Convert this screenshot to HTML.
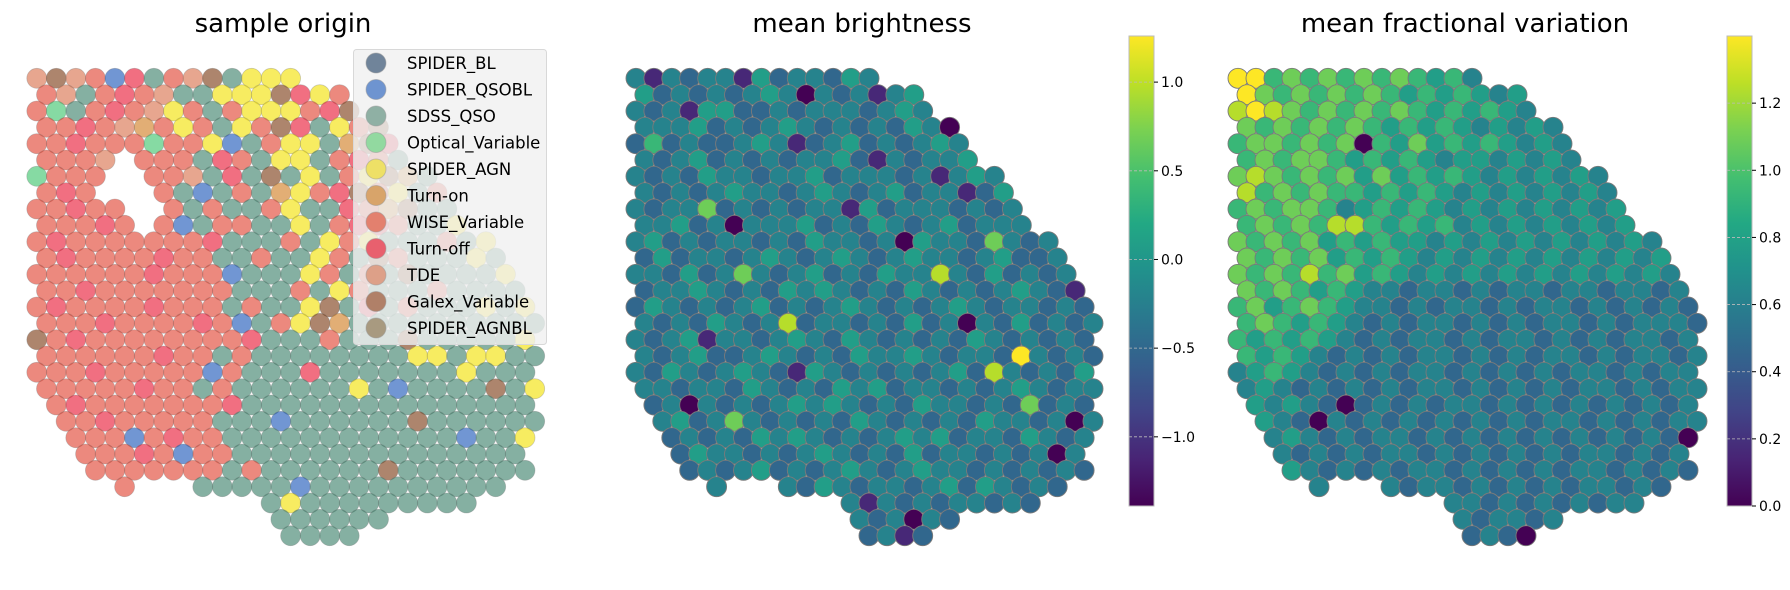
<!DOCTYPE html>
<html><head><meta charset="utf-8">
<style>
html,body{margin:0;padding:0;background:#fff;}
svg{display:block;font-family:"DejaVu Sans","Liberation Sans",sans-serif;}
</style></head>
<body>
<svg id="fig" width="1790" height="590" viewBox="0 0 1790 590" xmlns="http://www.w3.org/2000/svg">
  <defs>
    <linearGradient id="vir" x1="0" y1="1" x2="0" y2="0">
      <stop offset="0" stop-color="#440154"/><stop offset="0.1" stop-color="#482475"/>
      <stop offset="0.2" stop-color="#414487"/><stop offset="0.3" stop-color="#355f8d"/>
      <stop offset="0.4" stop-color="#2a788e"/><stop offset="0.5" stop-color="#21918c"/>
      <stop offset="0.6" stop-color="#22a884"/><stop offset="0.7" stop-color="#44bf70"/>
      <stop offset="0.8" stop-color="#7ad151"/><stop offset="0.9" stop-color="#bddf26"/>
      <stop offset="1" stop-color="#fde725"/>
    </linearGradient>
  </defs>
  <text x="283" y="32" font-size="26" text-anchor="middle" fill="#000">sample origin</text>
  <text x="862" y="32" font-size="26" text-anchor="middle" fill="#000">mean brightness</text>
  <text x="1465" y="32" font-size="26" text-anchor="middle" fill="#000">mean fractional variation</text>
  <g id="left"></g>
  <g id="mid"></g>
  <g id="right"></g>
  <g id="legend"></g>
  <g id="cb1"></g>
  <g id="cb2"></g>
</svg>
<script>
// ---- data ----
const categoryNames = ["SPIDER_BL","SPIDER_QSOBL","SDSS_QSO","Optical_Variable","SPIDER_AGN","Turn-on","WISE_Variable","Turn-off","TDE","Galex_Variable","SPIDER_AGNBL"];
const categoryCodes = ["B","Q","S","O","A","N","W","F","T","G","L"];
const categoryColors = ["#27466b","#1a56b8","#3a7f69","#3cc46a","#f2e000","#d07d20","#e0402e","#e81634","#d9704a","#7a3a14","#6a5a2a"];
const legendColors = ["#70849a","#6e94d0","#8fb0a4","#92d9a0","#eee066","#d8a46a","#e3806e","#e8606e","#dda088","#b08068","#a89a80"];

const brightTicks = [-1.0,-0.5,0.0,0.5,1.0];
const brightTickLabels = ["\u22121.0","\u22120.5","0.0","0.5","1.0"];
const brightRange = [-1.39,1.26];
const varTicks = [0.0,0.2,0.4,0.6,0.8,1.0,1.2];
const varTickLabels = ["0.0","0.2","0.4","0.6","0.8","1.0","1.2"];
const varRange = [0,1.4];

// per-cell codes (rows of the embedding grid)
const originGrid = [
"TTNTWSAAWTASAWSAWSOSAQAWAAS","TGTWQFSWTGSAAAGSAWSFWASWFSW","WWTSWFWTSSAAAGFAWGFWSASWSSA",
"WOSWFWTAWSWAAAWFGNAWFSASWAS","FWWFWTNWAWSAWGFSAWGSFSWSAWS","WWFWWWOWWAQSWAASNGFWSASWSAS",
"FWWWT.WWWSFWSAASWFWSGSWSAWS","OWWW..WWTSFSGSASWAGNSWSASWS","TWFW...WSQSWSNAWFGWASWSSWAS",
"WWFWW..WSWSSWASSFWNGSSWSASA","NWWWFW.WQSWWSSASWFFWSSAWSSS","WFWWWWWWWFSSSWSAWASSSWSASSS",
"WWFWWWWFWWSSWSSAWSGWSSSASSS","WWWWWWFWWWQSSSAWSWSGSSSSASS","TWWFWWWWWWWSSSWSAWSSSWSSSSA",
"WFWWWWFWWWSWSSAGSFSWSSSASAS","WWWWFWWWWFWQSWAGNSSSSSSSSSS","GWFWWWWWWWWFSSSWSSSGSSSSSAS",
"WWWWWWWFWWSWSSSSSSSSAASAASS","WWWFWWWWWQWSSSFSSSSSSSASSSA","QWWWWWFWWSWSSSSSSASQSSSSGSA",
"WWFWWWWWWWFSSSSSSSSSSSSSSSS","WWWWFWWWWWSSSQSSSSSSGSSSSSS","WWWWWQWFWWSSSSSSSSSSSSQSSAS",
"WWWWWWFWQWWSSSSSSSSSSSSSSSS","WQWWWWWWWWSWSSSSSSGSSSSSSSS","WWWFWWQWWSSSSSQSSSSSSSSSSSS",
"WWWWWWWWSSSSSASSSSSSSSSSSSS","WWWWWQWSSSSSSSSSSSSSQSSSSSS","WWWWWWSWSSSASSSSSSSSSSSSSSS",
"WWWWWWSSSSSSSFSSSSSSSSSSSSS"];
const brightGrid = [
"444354434454474344544344534","414344153443543434454443434","153434345404341453444434345",
"434155334344434544344536434","344453434543434354044344343","363433454134534345443534343",
"043453434344531434453444354","434354434453444341454743434","043434544345434534413545343",
"434473434344153444343454344","344534044453435434534443053","453434434354434054437434344",
"435344345434543454434533443","443534743453435448435343434","434454343545434354343454314",
"354343453434543434543443434","843435434834434353404353434","434514434543543434354343434",
"343453345434354454344394343","435434543154343434538434354","344344354343545344343454344",
"434043434545434354434373434","354534743434354343435443404","443434354543434545344354343",
"434354434345434353443434043","354343453434543454434343434","443434343435434434535434343",
"434343434343414343443434343","343434343434343404343434343","434343434343434131434343434",
"343434343434343431343434343"];
const varGrid = [
"776767766565654545454545454","996767676765646565454545454","997676767656565454545454545",
"898767676765656545454545454","976767676565654545455454545","677676706575656545454545454",
"767677656565455454545454545","787676757565654545454545454","486767665656545454545454545",
"676776456565454545454545454","567676886565645454545454545","767675656554545454545454545",
"676767565654545454545454545","767686756545454545454545454",
"576765654434434344344344343","675676544343443434434343434","567656543434434343443434443",
"656565434344343443434344343","565654343434434343443434434","456543434344343434344343443",
"545434343434434343434434344","454543034343443434343434343","545430434343434343443434344",
"454543434434343434343434303","545434343443434343434434343","454543434344343434344343434",
"545434343434434343434434343","454543434343443434343443434","545434343434343443434343434",
"454543434343434303434343434","545434343434343434343434343"];

// ---- geometry helpers ----
const NS = "http://www.w3.org/2000/svg";
function mk(tag, attrs, parent){const e=document.createElementNS(NS,tag);for(const k in attrs)e.setAttribute(k,attrs[k]);parent.appendChild(e);return e;}
const stops=[[0,[68,1,84]],[0.1,[72,36,117]],[0.2,[65,68,135]],[0.3,[53,95,141]],[0.4,[42,120,142]],[0.5,[33,145,140]],[0.6,[34,168,132]],[0.7,[68,191,112]],[0.8,[122,209,81]],[0.9,[189,223,38]],[1,[253,231,37]]];
function viridis(t){t=Math.max(0,Math.min(1,t));for(let i=1;i<stops.length;i++){if(t<=stops[i][0]){const a=stops[i-1],b=stops[i];const f=(t-a[0])/(b[0]-a[0]);const c=a[1].map((v,j)=>Math.round(v+(b[1][j]-v)*f));return `rgb(${c[0]},${c[1]},${c[2]})`;}}return "rgb(253,231,37)";}

const NC=27, NR=31;
function cellU(r,c){return (c + (r%2?0.5:0))/ (NC-1) * (468/471);}
function cellV(r){return r/(NR-1);}
const outline=[[0,0.09],[0.004,0.03],[0.155,0.018],[0.39,0],[0.556,0.04],[0.64,0.075],[0.74,0.183],[0.845,0.291],[0.946,0.42],[0.99,0.462],[1,0.62],[1,0.705],[0.985,0.84],[0.94,0.87],[0.865,0.905],[0.795,0.93],[0.706,0.92],[0.678,0.962],[0.59,1],[0.52,0.978],[0.459,0.912],[0.437,0.878],[0.39,0.885],[0.308,0.853],[0.19,0.87],[0.134,0.85],[0.1,0.813],[0.038,0.72],[0.01,0.612],[0.004,0.492],[0.01,0.305],[0.004,0.16]];
function inside(u,v){let ins=false;for(let i=0,j=outline.length-1;i<outline.length;j=i++){const [xi,yi]=outline[i],[xj,yj]=outline[j];if(((yi>v)!=(yj>v))&&(u<(xj-xi)*(v-yi)/(yj-yi)+xi))ins=!ins;}return ins;}

const yTop=62, yBot=552;
function sy(v){return yTop+v*(yBot-yTop);}
const panels={left:[27,538],mid:[627,1096],right:[1229,1700]};
function sx(p,u){return panels[p][0]+u*(panels[p][1]-panels[p][0]);}

// ---- left scatter ----
const gL=document.getElementById('left');
for(let r=0;r<NR;r++){for(let c=0;c<NC;c++){
  const u=cellU(r,c),v=cellV(r); if(!inside(u,v))continue;
  const ch=(originGrid[r]||"")[c]; if(!ch||ch==='.')continue;
  const k=categoryCodes.indexOf(ch); if(k<0)continue;
  const el=mk('circle',{cx:sx('left',u).toFixed(1),cy:sy(v).toFixed(1),r:10,fill:categoryColors[k],'fill-opacity':0.62,stroke:'#777','stroke-opacity':0.35,'stroke-width':0.8},gL);
  
  
}}
// ---- viridis scatters ----
function drawVal(id,grid,range,pname,prefix){
  const g=document.getElementById(id);
  for(let r=0;r<NR;r++){for(let c=0;c<NC;c++){
    const u=cellU(r,c),v=cellV(r); if(!inside(u,v))continue;
    const ch=(grid[r]||"")[c]; if(!ch||ch==='.')continue;
    const val=range[0]+(+ch)/9*(range[1]-range[0]);
    const el=mk('circle',{cx:sx(pname,u).toFixed(1),cy:sy(v).toFixed(1),r:10,fill:viridis((val-range[0])/(range[1]-range[0])),stroke:'#7a7a7a','stroke-width':0.9},g);
    
    
  }}
}
drawVal('mid',brightGrid,brightRange,'mid','brightness');
drawVal('right',varGrid,varRange,'right','variation');

// ---- legend ----
const lg=document.getElementById('legend');
const box=mk('rect',{x:353.5,y:49.5,width:193,height:295,rx:3,fill:'#f0f0f0','fill-opacity':0.8,stroke:'#d8d8d8'},lg);


categoryNames.forEach((n,i)=>{
  const y=63+i*26.5;
  const m=mk('circle',{cx:376,cy:y,r:10,fill:legendColors[i],stroke:'#999','stroke-opacity':0.5},lg);
  
  
  const t=mk('text',{x:407,y:y+6,'font-size':16.5,fill:'#000'},lg);
  t.textContent=n;
  
  
});

// ---- colorbars ----
function colorbar(id,x0,range,ticks,labels){
  const g=document.getElementById(id);
  const y0=36,y1=506,w=25;
  const ys=v=>y1-(v-range[0])/(range[1]-range[0])*(y1-y0);
  const rc=mk('rect',{x:x0,y:y0,width:w,height:y1-y0,fill:'url(#vir)',stroke:'#bbb','stroke-width':1},g);
  
  
  ticks.forEach((v,i)=>{
    const y=ys(v);
    const gl=mk('line',{x1:x0,x2:x0+w,y1:y,y2:y,stroke:'#bbb','stroke-width':0.8,'stroke-dasharray':'3,2'},g);
    
    
    const tk=mk('line',{x1:x0+w,x2:x0+w+4,y1:y,y2:y,stroke:'#000','stroke-width':1},g);
    
    
    const t=mk('text',{x:x0+w+7,y:y+5,'font-size':14,fill:'#000'},g);
    t.textContent=labels[i];
    
    
  });
}
colorbar('cb1',1129,brightRange,brightTicks,brightTickLabels);
colorbar('cb2',1727,varRange,varTicks,varTickLabels);
</script>
</body></html>
